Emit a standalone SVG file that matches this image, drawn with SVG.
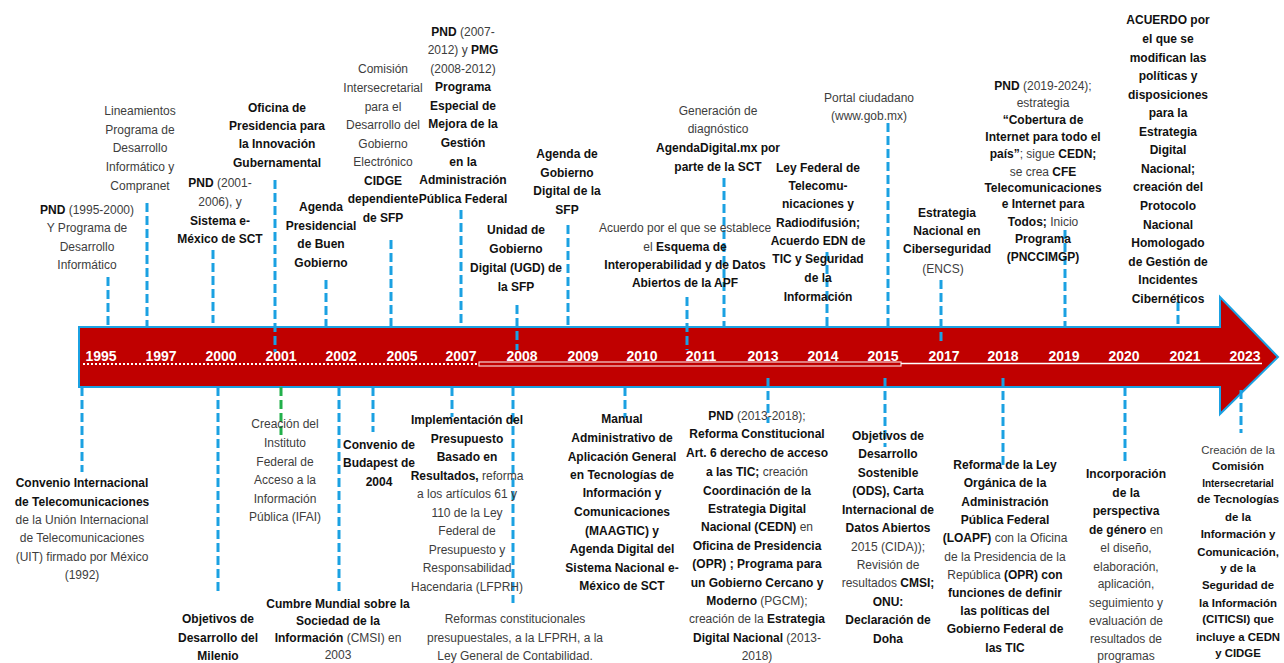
<svg xmlns="http://www.w3.org/2000/svg" width="1284" height="663" viewBox="0 0 1284 663">
<style>
text{font-family:"Liberation Sans",Arial,sans-serif;font-size:12px;text-anchor:middle;fill:#3d3d3d}
.b{font-weight:bold;fill:#111}
.yr{font-size:14px;font-weight:bold;fill:#fff}
.c{stroke:#1BA1E2;stroke-width:3;stroke-dasharray:9 4;fill:none}
.g{stroke:#22B04B;stroke-width:3;stroke-dasharray:9 4;fill:none}
.sm{font-size:10px}
.n{font-size:11.4px}
</style>
<rect width="1284" height="663" fill="#fff"/>
<g id="timeline">
<path d="M79,327 H1220 V297 L1278,357 L1220,414 V387 H79 Z" fill="#C00000" stroke="#1BA1E2" stroke-width="2"/>
<line x1="83" y1="364" x2="479" y2="364" stroke="#fff" stroke-width="2" stroke-dasharray="2 2"/>
<rect x="479" y="362" width="422" height="4" fill="none" stroke="#F6D2D2" stroke-width="1.2"/>
<line x1="901" y1="363.5" x2="1262" y2="363.5" stroke="#fff" stroke-width="1.6"/>
<text class="yr" x="101" y="361">1995</text>
<text class="yr" x="161" y="361">1997</text>
<text class="yr" x="221" y="361">2000</text>
<text class="yr" x="281" y="361">2001</text>
<text class="yr" x="341" y="361">2002</text>
<text class="yr" x="402" y="361">2005</text>
<text class="yr" x="461" y="361">2007</text>
<text class="yr" x="522" y="361">2008</text>
<text class="yr" x="583" y="361">2009</text>
<text class="yr" x="642" y="361">2010</text>
<text class="yr" x="701" y="361">2011</text>
<text class="yr" x="763" y="361">2013</text>
<text class="yr" x="823" y="361">2014</text>
<text class="yr" x="883" y="361">2015</text>
<text class="yr" x="944" y="361">2017</text>
<text class="yr" x="1003" y="361">2018</text>
<text class="yr" x="1064" y="361">2019</text>
<text class="yr" x="1124" y="361">2020</text>
<text class="yr" x="1185" y="361">2021</text>
<text class="yr" x="1245" y="361">2023</text>
</g>
<g id="connectors">
<line class="c" x1="108" y1="277" x2="108" y2="328"/>
<line class="c" x1="147" y1="203" x2="147" y2="328"/>
<line class="c" x1="213" y1="250" x2="213" y2="323"/>
<line class="c" x1="275" y1="180" x2="275" y2="352"/>
<line class="c" x1="326" y1="280" x2="326" y2="328"/>
<line class="c" x1="391" y1="240" x2="391" y2="328"/>
<line class="c" x1="461" y1="210" x2="461" y2="328"/>
<line class="c" x1="517" y1="305" x2="517" y2="350"/>
<line class="c" x1="568" y1="225" x2="568" y2="328"/>
<line class="c" x1="687" y1="297" x2="687" y2="350"/>
<line class="c" x1="724" y1="178" x2="724" y2="328"/>
<line class="c" x1="827" y1="252" x2="827" y2="328"/>
<line class="c" x1="888" y1="123" x2="888" y2="328"/>
<line class="c" x1="941" y1="280" x2="941" y2="345"/>
<line class="c" x1="1065" y1="230" x2="1065" y2="328"/>
<line class="c" x1="1178" y1="302" x2="1178" y2="328"/>
<line class="c" x1="82" y1="387" x2="82" y2="472"/>
<line class="c" x1="218" y1="387" x2="218" y2="593"/>
<line class="g" x1="281" y1="387" x2="281" y2="436"/>
<line class="c" x1="339" y1="387" x2="339" y2="593"/>
<line class="c" x1="373" y1="387" x2="373" y2="432"/>
<line class="c" x1="452" y1="387" x2="452" y2="417"/>
<line class="c" x1="513" y1="387" x2="513" y2="603"/>
<line class="c" x1="625" y1="387" x2="625" y2="418"/>
<line class="c" x1="768" y1="378" x2="768" y2="423"/>
<line class="c" x1="885" y1="378" x2="885" y2="447"/>
<line class="c" x1="1003" y1="378" x2="1003" y2="465"/>
<line class="c" x1="1125" y1="387" x2="1125" y2="462"/>
<line class="c" x1="1241" y1="390" x2="1241" y2="433"/>
</g>
<g id="n1995"><text><tspan x="87" y="214"><tspan class="b">PND</tspan> (1995-2000)</tspan><tspan x="87" y="232">Y Programa de</tspan><tspan x="87" y="251">Desarrollo</tspan><tspan x="87" y="269">Informático</tspan></text></g>
<g id="n1997"><text><tspan x="140" y="115">Lineamientos</tspan><tspan x="140" y="134">Programa de</tspan><tspan x="140" y="152">Desarrollo</tspan><tspan x="140" y="171">Informático y</tspan><tspan x="140" y="190">Compranet</tspan></text></g>
<g id="n2000"><text><tspan x="220" y="187"><tspan class="b">PND</tspan> (2001-</tspan><tspan x="220" y="206">2006), y</tspan><tspan class="b" x="220" y="225">Sistema e-</tspan><tspan class="b" x="220" y="243">México de SCT</tspan></text></g>
<g id="n2001"><text class="b"><tspan x="277" y="112">Oficina de</tspan><tspan x="277" y="130">Presidencia para</tspan><tspan x="277" y="148">la Innovación</tspan><tspan x="277" y="167">Gubernamental</tspan></text></g>
<g id="n2002"><text class="b"><tspan x="321" y="211">Agenda</tspan><tspan x="321" y="230">Presidencial</tspan><tspan x="321" y="248">de Buen</tspan><tspan x="321" y="267">Gobierno</tspan></text></g>
<g id="n2005"><text><tspan x="383" y="73">Comisión</tspan><tspan x="383" y="92">Intersecretarial</tspan><tspan x="383" y="111">para el</tspan><tspan x="383" y="129">Desarrollo del</tspan><tspan x="383" y="148">Gobierno</tspan><tspan x="383" y="166">Electrónico</tspan><tspan class="b" x="383" y="185">CIDGE</tspan><tspan class="b" x="383" y="203">dependiente</tspan><tspan class="b" x="383" y="222">de SFP</tspan></text></g>
<g id="n2007"><text><tspan x="463" y="36"><tspan class="b">PND</tspan> (2007-</tspan><tspan x="463" y="54">2012) y <tspan class="b">PMG</tspan></tspan><tspan x="463" y="73">(2008-2012)</tspan><tspan class="b" x="463" y="91">Programa</tspan><tspan class="b" x="463" y="110">Especial de</tspan><tspan class="b" x="463" y="128">Mejora de la</tspan><tspan class="b" x="463" y="147">Gestión</tspan><tspan class="b" x="463" y="166">en la</tspan><tspan class="b" x="463" y="184">Administración</tspan><tspan class="b" x="463" y="203">Pública Federal</tspan></text></g>
<g id="n2008"><text class="b"><tspan x="516" y="234">Unidad de</tspan><tspan x="516" y="253">Gobierno</tspan><tspan x="516" y="272">Digital (UGD) de</tspan><tspan x="516" y="291">la SFP</tspan></text></g>
<g id="n2009"><text class="b"><tspan x="567" y="158">Agenda de</tspan><tspan x="567" y="177">Gobierno</tspan><tspan x="567" y="195">Digital de la</tspan><tspan x="567" y="214">SFP</tspan></text></g>
<g id="n2011a"><text><tspan x="685" y="232">Acuerdo por el que se establece</tspan><tspan x="685" y="251">el <tspan class="b">Esquema de</tspan></tspan><tspan class="b" x="685" y="269">Interoperabilidad y de Datos</tspan><tspan class="b" x="685" y="287">Abiertos de la APF</tspan></text></g>
<g id="n2011b"><text><tspan x="718" y="115">Generación de</tspan><tspan x="718" y="133">diagnóstico</tspan><tspan class="b" x="718" y="152">AgendaDigital.mx por</tspan><tspan class="b" x="718" y="171">parte de la SCT</tspan></text></g>
<g id="n2014"><text class="b"><tspan x="818" y="172">Ley Federal de</tspan><tspan x="818" y="190">Telecomu-</tspan><tspan x="818" y="208">nicaciones y</tspan><tspan x="818" y="227">Radiodifusión;</tspan><tspan x="818" y="245">Acuerdo EDN de</tspan><tspan x="818" y="263">TIC y Seguridad</tspan><tspan x="818" y="282">de la</tspan><tspan x="818" y="301">Información</tspan></text></g>
<g id="n2015"><text><tspan x="869" y="102">Portal ciudadano</tspan><tspan x="869" y="120">(www.gob.mx)</tspan></text></g>
<g id="n2017"><text><tspan class="b" x="947" y="217">Estrategia</tspan><tspan class="b" x="947" y="235">Nacional en</tspan><tspan class="b" x="947" y="253">Ciberseguridad</tspan><tspan x="943" y="273">(ENCS)</tspan></text></g>
<g id="n2019"><text><tspan x="1043" y="90"><tspan class="b">PND</tspan> (2019-2024);</tspan><tspan x="1043" y="107">estrategia</tspan><tspan class="b" x="1043" y="124">“Cobertura de</tspan><tspan class="b" x="1043" y="141">Internet para todo el</tspan><tspan x="1043" y="158"><tspan class="b">país”</tspan>; sigue <tspan class="b">CEDN;</tspan></tspan><tspan x="1043" y="176">se crea <tspan class="b">CFE</tspan></tspan><tspan class="b" x="1043" y="192">Telecomunicaciones</tspan><tspan class="b" x="1043" y="208">e Internet para</tspan><tspan x="1043" y="226"><tspan class="b">Todos;</tspan> Inicio</tspan><tspan class="b" x="1043" y="243">Programa</tspan><tspan class="b" x="1043" y="261">(PNCCIMGP)</tspan></text></g>
<g id="n2021"><text class="b"><tspan x="1168" y="24">ACUERDO por</tspan><tspan x="1168" y="43">el que se</tspan><tspan x="1168" y="62">modifican las</tspan><tspan x="1168" y="80">políticas y</tspan><tspan x="1168" y="99">disposiciones</tspan><tspan x="1168" y="117">para la</tspan><tspan x="1168" y="136">Estrategia</tspan><tspan x="1168" y="154">Digital</tspan><tspan x="1168" y="173">Nacional;</tspan><tspan x="1168" y="191">creación del</tspan><tspan x="1168" y="210">Protocolo</tspan><tspan x="1168" y="229">Nacional</tspan><tspan x="1168" y="247">Homologado</tspan><tspan x="1168" y="266">de Gestión de</tspan><tspan x="1168" y="284">Incidentes</tspan><tspan x="1168" y="303">Cibernéticos</tspan></text></g>
<g id="s1995"><text><tspan class="b" x="82" y="487">Convenio Internacional</tspan><tspan class="b" x="82" y="506">de Telecomunicaciones</tspan><tspan x="82" y="524">de la Unión Internacional</tspan><tspan x="82" y="542">de Telecomunicaciones</tspan><tspan x="82" y="561">(UIT) firmado por México</tspan><tspan x="82" y="579">(1992)</tspan></text></g>
<g id="s2000"><text class="b"><tspan x="218" y="623">Objetivos de</tspan><tspan x="218" y="642">Desarrollo del</tspan><tspan x="218" y="660">Milenio</tspan></text></g>
<g id="s2001"><text><tspan x="285" y="428">Creación del</tspan><tspan x="285" y="447">Instituto</tspan><tspan x="285" y="466">Federal de</tspan><tspan x="285" y="484">Acceso a la</tspan><tspan x="285" y="503">Información</tspan><tspan x="285" y="521">Pública (IFAI)</tspan></text></g>
<g id="s2002"><text><tspan class="b" x="338" y="608">Cumbre Mundial sobre la</tspan><tspan class="b" x="338" y="625">Sociedad de la</tspan><tspan x="338" y="642"><tspan class="b">Información</tspan> (CMSI) en</tspan><tspan x="338" y="659">2003</tspan></text></g>
<g id="s2005"><text class="b"><tspan x="379" y="449">Convenio de</tspan><tspan x="379" y="467">Budapest de</tspan><tspan x="379" y="486">2004</tspan></text></g>
<g id="s2007"><text><tspan class="b" x="467" y="424">Implementación del</tspan><tspan class="b" x="467" y="443">Presupuesto</tspan><tspan class="b" x="467" y="461">Basado en</tspan><tspan x="467" y="480"><tspan class="b">Resultados,</tspan> reforma</tspan><tspan x="467" y="498">a los artículos 61 y</tspan><tspan x="467" y="517">110 de la Ley</tspan><tspan x="467" y="535">Federal de</tspan><tspan x="467" y="554">Presupuesto y</tspan><tspan x="467" y="572">Responsabilidad</tspan><tspan x="467" y="591">Hacendaria (LFPRH)</tspan></text></g>
<g id="s2008"><text><tspan x="515" y="623">Reformas constitucionales</tspan><tspan x="515" y="642">presupuestales, a la LFPRH, a la</tspan><tspan x="515" y="660">Ley General de Contabilidad.</tspan></text></g>
<g id="s2010"><text class="b"><tspan x="622" y="423">Manual</tspan><tspan x="622" y="442">Administrativo de</tspan><tspan x="622" y="461">Aplicación General</tspan><tspan x="622" y="479">en Tecnologías de</tspan><tspan x="622" y="497">Información y</tspan><tspan x="622" y="516">Comunicaciones</tspan><tspan x="622" y="535">(MAAGTIC) y</tspan><tspan x="622" y="553">Agenda Digital del</tspan><tspan x="622" y="572">Sistema Nacional e-</tspan><tspan x="622" y="590">México de SCT</tspan></text></g>
<g id="s2013"><text><tspan x="757" y="420"><tspan class="b">PND</tspan> (2013-2018);</tspan><tspan class="b" x="757" y="438">Reforma Constitucional</tspan><tspan class="b" x="757" y="457">Art. 6 derecho de acceso</tspan><tspan x="757" y="476"><tspan class="b">a las TIC;</tspan> creación</tspan><tspan class="b" x="757" y="495">Coordinación de la</tspan><tspan class="b" x="757" y="513">Estrategia Digital</tspan><tspan x="757" y="531"><tspan class="b">Nacional (CEDN)</tspan> en</tspan><tspan class="b" x="757" y="550">Oficina de Presidencia</tspan><tspan class="b" x="757" y="568">(OPR) ; Programa para</tspan><tspan class="b" x="757" y="587">un Gobierno Cercano y</tspan><tspan x="757" y="605"><tspan class="b">Moderno</tspan> (PGCM);</tspan><tspan x="757" y="623">creación de la <tspan class="b">Estrategia</tspan></tspan><tspan x="757" y="642"><tspan class="b">Digital Nacional</tspan> (2013-</tspan><tspan x="757" y="660">2018)</tspan></text></g>
<g id="s2015"><text><tspan class="b" x="888" y="440">Objetivos de</tspan><tspan class="b" x="888" y="458">Desarrollo</tspan><tspan class="b" x="888" y="477">Sostenible</tspan><tspan class="b" x="888" y="495">(ODS), Carta</tspan><tspan class="b" x="888" y="514">Internacional de</tspan><tspan class="b" x="888" y="532">Datos Abiertos</tspan><tspan x="888" y="551">2015 (CIDA));</tspan><tspan x="888" y="569">Revisión de</tspan><tspan x="888" y="587">resultados <tspan class="b">CMSI;</tspan></tspan><tspan class="b" x="888" y="606">ONU:</tspan><tspan class="b" x="888" y="624">Declaración de</tspan><tspan class="b" x="888" y="643">Doha</tspan></text></g>
<g id="s2018"><text><tspan class="b" x="1005" y="469">Reforma de la Ley</tspan><tspan class="b" x="1005" y="487">Orgánica de la</tspan><tspan class="b" x="1005" y="506">Administración</tspan><tspan class="b" x="1005" y="524">Pública Federal</tspan><tspan x="1005" y="542"><tspan class="b">(LOAPF)</tspan> con la Oficina</tspan><tspan x="1005" y="561">de la Presidencia de la</tspan><tspan x="1005" y="579">República <tspan class="b">(OPR) con</tspan></tspan><tspan class="b" x="1005" y="597">funciones de definir</tspan><tspan class="b" x="1005" y="615">las políticas del</tspan><tspan class="b" x="1005" y="633">Gobierno Federal de</tspan><tspan class="b" x="1005" y="652">las TIC</tspan></text></g>
<g id="s2020"><text><tspan class="b" x="1126" y="478">Incorporación</tspan><tspan class="b" x="1126" y="497">de la</tspan><tspan class="b" x="1126" y="515">perspectiva</tspan><tspan x="1126" y="534"><tspan class="b">de género</tspan> en</tspan><tspan x="1126" y="552">el diseño,</tspan><tspan x="1126" y="571">elaboración,</tspan><tspan x="1126" y="588">aplicación,</tspan><tspan x="1126" y="607">seguimiento y</tspan><tspan x="1126" y="625">evaluación de</tspan><tspan x="1126" y="643">resultados de</tspan><tspan x="1126" y="660">programas</tspan></text></g>
<g id="s2023"><text class="n"><tspan x="1238" y="454">Creación de la</tspan><tspan class="b" x="1238" y="470">Comisión</tspan><tspan class="b sm" x="1238" y="487">Intersecretarial</tspan><tspan class="b" x="1238" y="503">de Tecnologías</tspan><tspan class="b" x="1238" y="521">de la</tspan><tspan class="b" x="1238" y="538">Información y</tspan><tspan class="b" x="1238" y="556">Comunicación,</tspan><tspan class="b" x="1238" y="572">y de la</tspan><tspan class="b" x="1238" y="589">Seguridad de</tspan><tspan class="b" x="1238" y="607">la Información</tspan><tspan class="b" x="1238" y="623">(CITICSI) que</tspan><tspan class="b" x="1238" y="641">incluye a CEDN</tspan><tspan class="b" x="1238" y="657">y CIDGE</tspan></text></g>
</svg>
